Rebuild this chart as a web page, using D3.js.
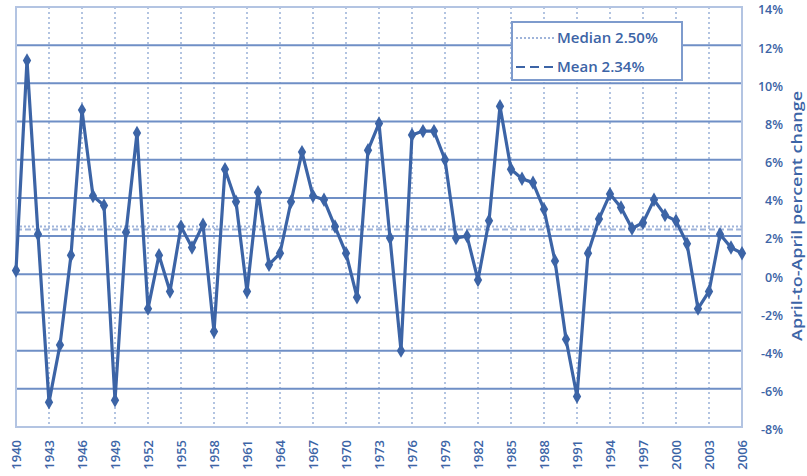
<!DOCTYPE html>
<html>
<head>
<meta charset="utf-8">
<script src="https://cdn.jsdelivr.net/npm/d3@7/dist/d3.min.js"></script>
<style>
  body { margin: 0; background: #fff; }
  text { font-family: "Open Sans", "DejaVu Sans", sans-serif; fill: #3c64a6; }
</style>
</head>
<body>
<div id="chart"></div>
<script>
var width = 807
var height = 476

// April-to-April percent change, 1940..2006
var years = d3.range(1940, 2007)
var changes = [
  0.2, 11.2, 2.1, -6.7, -3.7, 1.0, 8.6, 4.1, 3.6, -6.6,
  2.2, 7.4, -1.8, 1.0, -0.9, 2.5, 1.4, 2.6, -3.0, 5.5,
  3.8, -0.9, 4.3, 0.5, 1.1, 3.8, 6.4, 4.1, 3.9, 2.5,
  1.1, -1.2, 6.5, 7.9, 1.9, -4.0, 7.3, 7.5, 7.5, 6.0,
  1.9, 2.0, -0.3, 2.8, 8.8, 5.5, 5.0, 4.8, 3.4, 0.7,
  -3.4, -6.4, 1.1, 2.9, 4.2, 3.5, 2.4, 2.7, 3.9, 3.1,
  2.8, 1.6, -1.8, -0.9, 2.1, 1.4, 1.1
]
var yTicks = [-8, -6, -4, -2, 0, 2, 4, 6, 8, 10, 12, 14]
var yearTicks = d3.range(1940, 2007, 3)
var median = 2.50
var mean = 2.34

var blue = "#3c64a6"
var gridBlue = "#8aa5d2"

var svg = d3.select("#chart")
    .append("svg")
    .attr("width", width)
    .attr("height", height)

var x = d3.scaleLinear().domain([1940, 2006]).range([16, 742])
var y = d3.scaleLinear().domain([-8, 14]).range([427, 7])

// vertical dotted grid
svg.append("g")
    .selectAll("line")
    .data(yearTicks.slice(1, -1))
    .enter()
    .append("line")
        .attr("x1", d => x(d)).attr("x2", d => x(d))
        .attr("y1", y(14)).attr("y2", y(-8))
        .style("stroke", gridBlue)
        .style("stroke-width", 1.3)
        .style("stroke-dasharray", "2,3")

// horizontal grid
svg.append("g")
    .selectAll("line")
    .data(yTicks.slice(1, -1))
    .enter()
    .append("line")
        .attr("x1", x(1940)).attr("x2", x(2006))
        .attr("y1", d => y(d)).attr("y2", d => y(d))
        .style("stroke", "#6f8fc6")
        .style("stroke-width", 2)

// frame
svg.append("rect")
    .attr("x", x(1940)).attr("y", y(14))
    .attr("width", x(2006) - x(1940))
    .attr("height", y(-8) - y(14))
    .style("fill", "none")
    .style("stroke", "#b3c4e2")
    .style("stroke-width", 2)

// median & mean lines
svg.append("line")
    .attr("x1", x(1940)).attr("x2", x(2006))
    .attr("y1", y(median)).attr("y2", y(median))
    .style("stroke", "#9fb4da")
    .style("stroke-width", 2)
    .style("stroke-dasharray", "2,2")
svg.append("line")
    .attr("x1", x(1940)).attr("x2", x(2006))
    .attr("y1", y(mean)).attr("y2", y(mean))
    .style("stroke", "#9fb4da")
    .style("stroke-width", 2)
    .style("stroke-dasharray", "6,3")

// data line
var pts = years.map((yr, i) => [yr, changes[i]])
svg.append("path")
    .datum(pts)
    .attr("d", d3.line().x(d => x(d[0])).y(d => y(d[1])))
    .style("fill", "none")
    .style("stroke", blue)
    .style("stroke-width", 3.2)
    .style("stroke-linejoin", "round")

svg.append("g")
    .selectAll("path")
    .data(pts)
    .enter()
    .append("path")
        .attr("transform", d => "translate(" + x(d[0]) + "," + y(d[1]) + ")")
        .attr("d", d3.symbol().type(d3.symbolDiamond).size(60))
        .style("fill", blue)

// right axis labels
svg.append("g")
    .selectAll("text")
    .data(yTicks)
    .enter()
    .append("text")
        .attr("x", 783)
        .attr("y", d => y(d) + 3)
        .attr("dy", "0.35em")
        .style("text-anchor", "end")
        .style("font-size", "12.5px")
        .style("font-weight", 600)
        .text(d => d + "%")

svg.append("text")
    .attr("transform", "translate(802,216) rotate(-90)")
    .attr("textLength", 250)
    .attr("lengthAdjust", "spacingAndGlyphs")
    .style("text-anchor", "middle")
    .style("font-size", "14px")
    .style("font-weight", 600)
    .text("April-to-April percent change")

// year labels
svg.append("g")
    .selectAll("text")
    .data(yearTicks)
    .enter()
    .append("text")
        .attr("transform", d => "translate(" + (x(d) + 4.5) + ",440) rotate(-90)")
        .style("text-anchor", "end")
        .style("font-size", "13px")
        .style("font-weight", 600)
        .text(d => d)

// legend
var lg = svg.append("g").attr("transform", "translate(512,22)")
lg.append("rect")
    .attr("width", 170).attr("height", 58)
    .style("fill", "#fff")
    .style("stroke", "#7e9bcd")
    .style("stroke-width", 2)
lg.append("line")
    .attr("x1", 4).attr("x2", 42).attr("y1", 16).attr("y2", 16)
    .style("stroke", "#9fb4da").style("stroke-width", 2)
    .style("stroke-dasharray", "2,2")
lg.append("line")
    .attr("x1", 4).attr("x2", 42).attr("y1", 45).attr("y2", 45)
    .style("stroke", blue).style("stroke-width", 2)
    .style("stroke-dasharray", "9,5")
lg.append("text")
    .attr("x", 45).attr("y", 16).attr("dy", "0.35em")
    .style("font-size", "15px")
    .style("font-weight", 600)
    .text("Median " + median.toFixed(2) + "%")
lg.append("text")
    .attr("x", 45).attr("y", 45).attr("dy", "0.35em")
    .style("font-size", "15px")
    .style("font-weight", 600)
    .text("Mean " + mean.toFixed(2) + "%")
</script>
</body>
</html>
